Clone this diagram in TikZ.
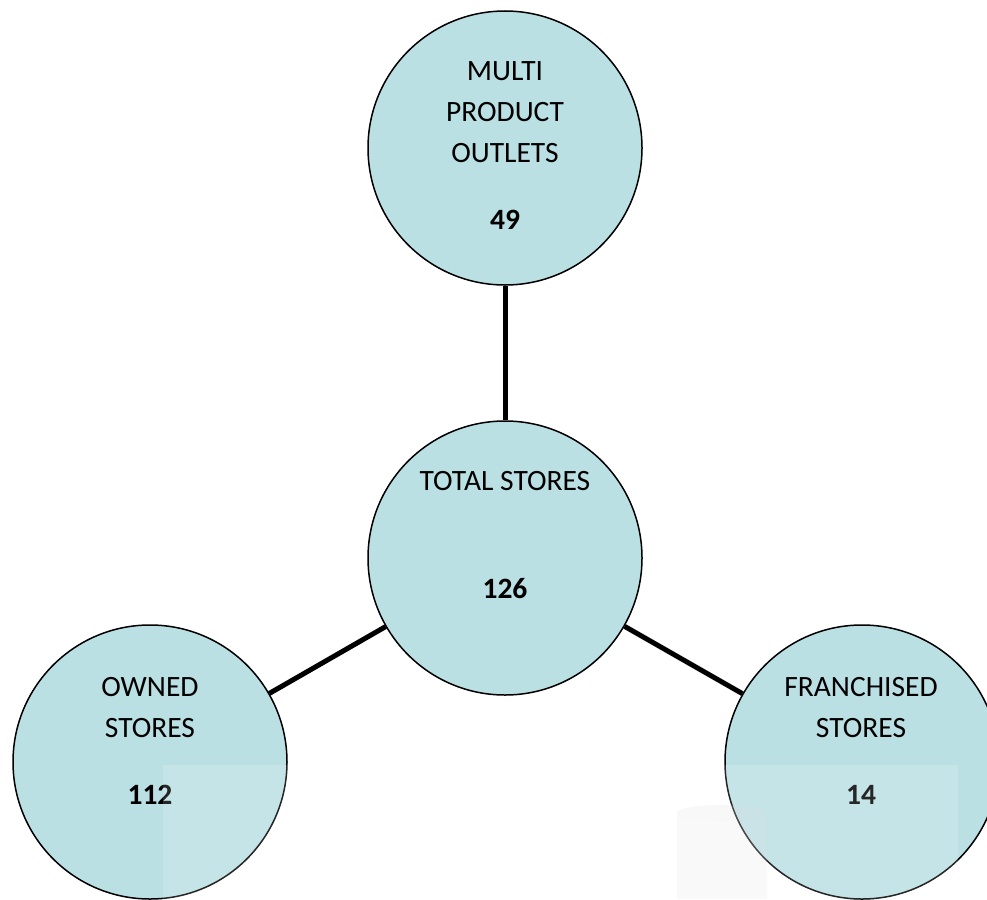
\documentclass[tikz,border=0pt]{standalone}
\usepackage{fontspec}
\setmainfont{Carlito}
\definecolor{bubble}{HTML}{BBE0E3}
\begin{document}
\begin{tikzpicture}[x=1pt,y=-1pt,
  bubble/.style={circle,draw=black,line width=1.5pt,fill=bubble,minimum size=274pt,inner sep=0pt},
  link/.style={line width=5pt,black},
  lbl/.style={anchor=base,font=\fontsize{29.5}{35}\selectfont,inner sep=0pt},
  num/.style={anchor=base,font=\fontsize{29.5}{35}\selectfont\bfseries,inner sep=0pt}]
\useasboundingbox (0,0) rectangle (987,899);
\clip (0,0) rectangle (987,899);
\fill[white] (0,0) rectangle (987,899);
% circles
\node[bubble] (top) at (505,148) {};
\node[bubble] (mid) at (505,558) {};
\node[bubble] (own) at (150,762) {};
\node[bubble] (fra) at (862,762) {};
% connectors
\draw[link] (top) -- (mid);
\draw[link] (mid) -- (own);
\draw[link] (mid) -- (fra);
% labels
\node[lbl] (t1) at (505,80) {MULTI};
\node[lbl] (t2) at (505,121) {PRODUCT};
\node[lbl] (t3) at (505,162) {OUTLETS};
\node[num] (t4) at (505,229) {49};
\node[lbl] (m1) at (505,490) {TOTAL STORES};
\node[num] (m2) at (505,598) {126};
\node[lbl] (o1) at (150,696) {OWNED};
\node[lbl] (o2) at (150,737) {STORES};
\node[num] (o3) at (150,804) {112};
\node[lbl] (f1) at (861,696) {FRANCHISED};
\node[lbl] (f2) at (861,737) {STORES};
\node[num] (f3) at (861,804) {14};
% faint cylinder
\fill[gray!25,opacity=0.18] (677,813) -- (677,899) -- (767,899) -- (767,813) arc[start angle=0,end angle=-180,x radius=45pt,y radius=8pt] -- cycle;
\fill[gray!30,opacity=0.2] (722,813) ellipse[x radius=45pt,y radius=8pt];
% translucent overlay
\fill[white,opacity=0.15] (163,765) rectangle (958,899);
\end{tikzpicture}
\end{document}
